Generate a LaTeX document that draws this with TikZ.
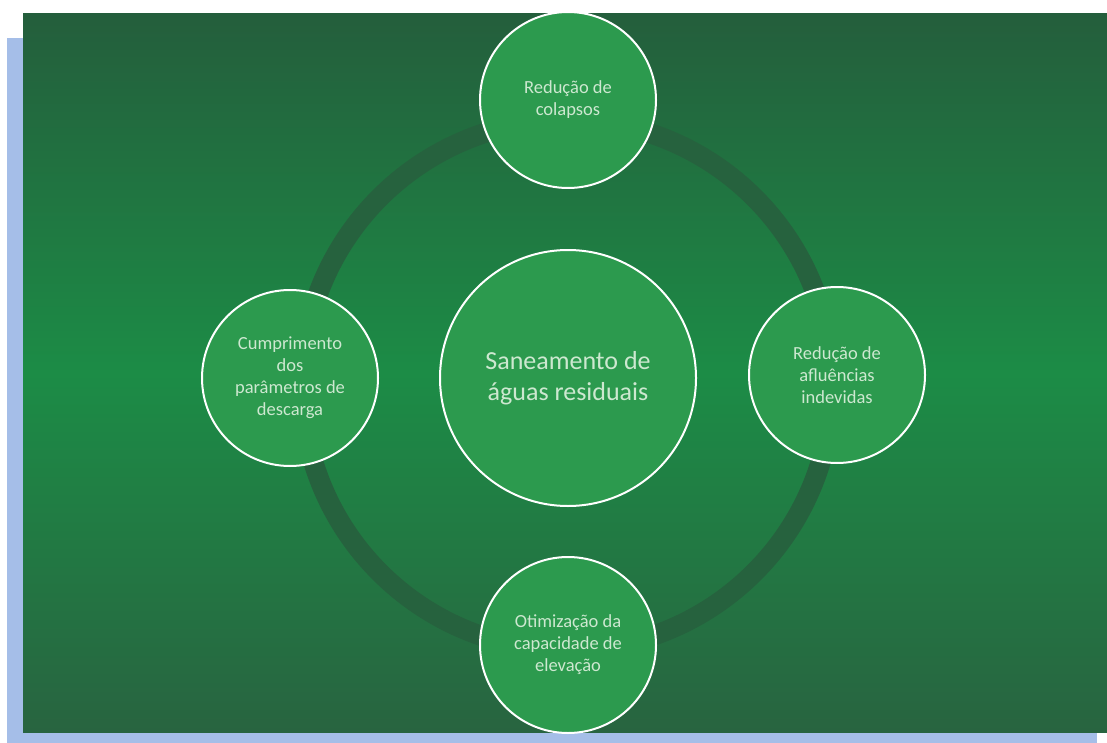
\documentclass[tikz,border=0pt]{standalone}
\usepackage{fontspec}
\setmainfont{Carlito}

\definecolor{bgtop}{RGB}{36,94,60}
\definecolor{bgmid}{RGB}{28,140,70}
\definecolor{bgbot}{RGB}{40,100,64}
\definecolor{discgreen}{RGB}{44,154,78}
\definecolor{ringgreen}{RGB}{38,98,62}
\definecolor{shadowblue}{RGB}{165,190,232}
\definecolor{labeltext}{RGB}{205,232,208}

\tikzstyle{topic} = [circle,draw=white,line width=2pt,fill=discgreen,minimum size=176pt,inner sep=0pt,align=center,text=labeltext,font=\fontsize{18.5}{22}\selectfont]
\tikzstyle{hub} = [topic,minimum size=256pt,font=\fontsize{26}{31}\selectfont]

\begin{document}
\begin{tikzpicture}[x=1pt,y=-1pt]
		\useasboundingbox (0,0) rectangle (1107,743);
		% backdrop
		\fill[shadowblue] (7,38) rectangle (1097,743);
		\shade[top color=bgtop,bottom color=bgbot,middle color=bgmid] (23,14) rectangle (1107,732);
		\draw[ringgreen,line width=20pt] (567,385) circle [radius=265];
		
		\node[hub] (sanea) at (568,378) {Saneamento de\\águas residuais};
		\node[topic] (colapsos) at (568,100) {Redução de\\colapsos};
		\node[topic] (descarga) at (290,378) {Cumprimento\\dos\\parâmetros de\\descarga};
		\node[topic] (afluencias) at (837,375) {Redução de\\afluências\\indevidas};
		\node[topic] (elevacao) at (568,645) {Otimização da\\capacidade de\\elevação};
		\end{tikzpicture}
\end{document}
